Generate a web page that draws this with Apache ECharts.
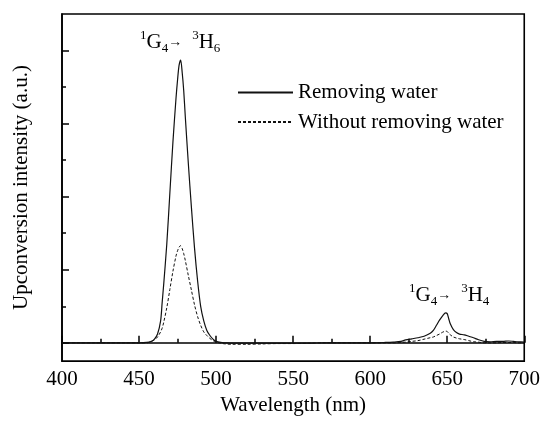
<!DOCTYPE html>
<html>
<head>
<meta charset="utf-8">
<script src="https://cdn.jsdelivr.net/npm/echarts@6/dist/echarts.min.js"></script>
<style>
html,body{margin:0;padding:0;background:#fff;}
#chart{width:543px;height:421px;}
</style>
</head>
<body>
<div id="chart"></div>
<script>
var wavelength = [400,410,420,430,440,450,455,458,460,462,464,465,466,468,470,472,474,475,476,477,478,479,480,482,484,486,488,490,492,494,496,498,500,503,506,510,520,530,540,550,560,570,580,590,600,610,615,620,623,627,631,635,639,641,643,645,647,649,650,651,652,654,656,658,661,664,667,670,674,678,682,686,690,693,696,700];
var removingWater = [0,0,0,0,0,0,0.005,0.02,0.05,0.12,0.3,0.55,0.8,1.35,2.05,2.75,3.35,3.6,3.8,3.87,3.7,3.45,3.1,2.45,1.85,1.3,0.85,0.5,0.3,0.17,0.1,0.05,0.02,0.005,0,-0.005,-0.005,-0.005,-0.005,-0.005,-0.005,0,0,0,0,0.005,0.01,0.02,0.04,0.055,0.07,0.09,0.13,0.17,0.24,0.31,0.37,0.41,0.4,0.33,0.26,0.18,0.14,0.12,0.11,0.09,0.07,0.045,0.02,0.015,0.02,0.02,0.025,0.02,0.015,0.01];
var withoutRemovingWater = [0,0,0,0,0,0,0,0.02,0.04,0.08,0.15,0.2,0.28,0.48,0.73,0.98,1.19,1.26,1.31,1.33,1.29,1.22,1.13,0.92,0.72,0.52,0.36,0.24,0.15,0.1,0.06,0.03,0.01,-0.005,-0.015,-0.02,-0.02,-0.015,-0.01,-0.01,-0.005,0,0,0,0,0,0,0.005,0.01,0.02,0.03,0.05,0.07,0.08,0.1,0.12,0.145,0.16,0.155,0.13,0.11,0.08,0.065,0.055,0.045,0.03,0.015,0.01,0,0,0,0.005,0.005,0.005,0,0];
var seriesNames = ['Removing water', 'Without removing water'];
var xTicks = [400, 450, 500, 550, 600, 650, 700];
var yMajorTicks = [0, 1, 2, 3, 4];
var yMinorTicks = [0.5, 1.5, 2.5, 3.5];

var FONT = "'Liberation Serif', 'Times New Roman', serif";
function pairs(xs, ys){ return xs.map(function(x,i){ return [x, ys[i]]; }); }

var chart = echarts.init(document.getElementById('chart'), null, {renderer:'canvas'});
var richStyle = {
  n: {fontFamily: FONT, fontSize: 21, color: '#000', lineHeight: 26, verticalAlign: 'middle'},
  sup: {fontFamily: FONT, fontSize: 13, color: '#000', lineHeight: 13, verticalAlign: 'top'},
  sub: {fontFamily: FONT, fontSize: 13, color: '#000', lineHeight: 13, verticalAlign: 'bottom'},
  arr: {fontFamily: FONT, fontSize: 14, color: '#000', lineHeight: 20, verticalAlign: 'middle'},
  sp: {width: 10, lineHeight: 10}
};
chart.setOption({
  animation: false,
  backgroundColor: '#fff',
  grid: {left: 62, right: 15, top: 14, bottom: 59, show: true, borderColor: '#000', borderWidth: 1.6, containLabel: false},
  legend: {
    orient: 'vertical', left: 237, top: 82, padding: 0, itemWidth: 55, itemHeight: 14, itemGap: 8.5,
    textStyle: {fontFamily: FONT, fontSize: 21, color: '#000'},
    data: seriesNames
  },
  xAxis: {
    type: 'value', min: xTicks[0], max: xTicks[xTicks.length-1], interval: 50,
    name: 'Wavelength (nm)', nameLocation: 'middle', nameGap: 31,
    nameTextStyle: {fontFamily: FONT, fontSize: 21, color: '#000'},
    axisLine: {lineStyle: {color: '#000', width: 1.6}},
    axisTick: {inside: true, length: 7, lineStyle: {color: '#000', width: 1.5}},
    minorTick: {show: true, splitNumber: 2, length: 4, lineStyle: {color: '#000', width: 1.5}},
    axisLabel: {fontFamily: FONT, fontSize: 21, color: '#000', margin: 8},
    splitLine: {show: false}
  },
  yAxis: [{
    type: 'value', min: -0.25, max: 4.5,
    name: 'Upconversion intensity (a.u.)', nameLocation: 'middle', nameGap: 30,
    nameTextStyle: {fontFamily: FONT, fontSize: 21, color: '#000'},
    axisLine: {lineStyle: {color: '#000', width: 1.6}},
    axisTick: {inside: true, length: 7, customValues: yMajorTicks, lineStyle: {color: '#000', width: 1.5}},
    axisLabel: {show: false},
    splitLine: {show: false}
  }, {
    type: 'value', min: -0.25, max: 4.5, position: 'left',
    axisLine: {show: false},
    axisTick: {inside: true, length: 4, customValues: yMinorTicks, lineStyle: {color: '#000', width: 1.5}},
    axisLabel: {show: false},
    splitLine: {show: false}
  }],
  series: [{
    name: seriesNames[0], type: 'line', data: pairs(wavelength, removingWater),
    showSymbol: false, symbol: 'none', smooth: 0.3,
    lineStyle: {color: '#111', width: 1.2, type: 'solid'}, itemStyle: {color: 'rgba(0,0,0,0)', borderWidth: 0}
  }, {
    name: seriesNames[1], type: 'line', data: pairs(wavelength, withoutRemovingWater),
    showSymbol: false, symbol: 'none', smooth: 0.3,
    lineStyle: {color: '#111', width: 1, type: [3, 2]}, itemStyle: {color: 'rgba(0,0,0,0)', borderWidth: 0}
  }],
  graphic: [{
    type: 'text', left: 140, top: 29,
    style: {text: '{sup|1}{n|G}{sub|4}{arr|→}{sp|}{sup|3}{n|H}{sub|6}', rich: richStyle}
  }, {
    type: 'text', left: 409, top: 282,
    style: {text: '{sup|1}{n|G}{sub|4}{arr|→}{sp|}{sup|3}{n|H}{sub|4}', rich: richStyle}
  }]
});
</script>
</body>
</html>
